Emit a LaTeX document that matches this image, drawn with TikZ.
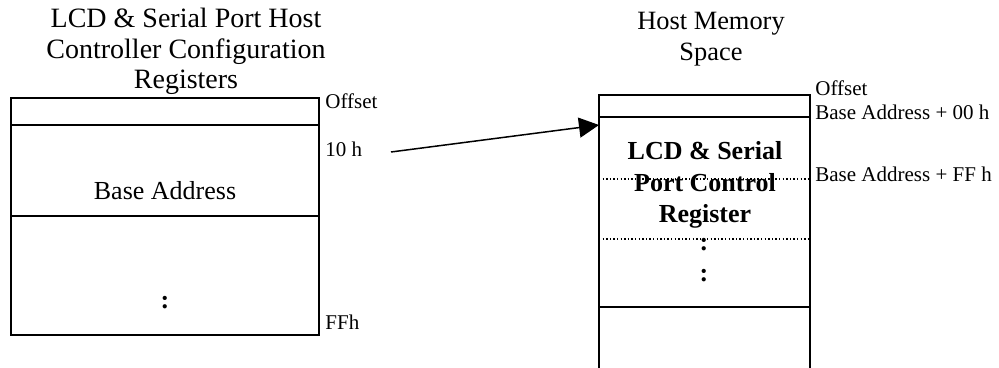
\documentclass[tikz,border=0pt]{standalone}
\usepackage{fontspec}
\setmainfont{Liberation Serif}
\usetikzlibrary{arrows.meta}
\begin{document}
\begin{tikzpicture}[x=0.5pt,y=-0.5pt,
  regbox/.style={line width=1pt},
  dotline/.style={line width=0.7pt,dash pattern=on 0.7pt off 1.1pt},
  ttl/.style={font=\fontsize{13.5}{15}\selectfont,anchor=base,inner sep=0pt},
  lbl/.style={font=\fontsize{10.5}{12}\selectfont,anchor=base west,inner sep=0pt},
  celltxt/.style={font=\fontsize{13}{15}\selectfont,anchor=base,inner sep=0pt},
  boldtxt/.style={font=\fontsize{13}{15}\selectfont\bfseries,anchor=base,inner sep=0pt},
  link/.style={line width=0.75pt,-{Triangle[length=10pt,width=10pt]}}]
\useasboundingbox (0,0) rectangle (999,368);
\clip (0,0) rectangle (999,368);

% left table: configuration registers
\node[ttl,font=\fontsize{14}{16}\selectfont] (lt1) at (186,28) {LCD \& Serial Port Host};
\node[ttl,font=\fontsize{14}{16}\selectfont] (lt2) at (186,59) {Controller Configuration};
\node[ttl,font=\fontsize{14}{16}\selectfont] (lt3) at (186,89) {Registers};
\draw[regbox] (11,98) rectangle (319,335);
\draw[regbox] (11,125) -- (319,125);
\draw[regbox] (11,216) -- (319,216);
\node[celltxt] (base) at (165,200) {Base Address};
\node[celltxt,font=\fontsize{13}{15}\selectfont\bfseries] (ldots) at (165,308) {:};
\node[lbl] (loff) at (325,109) {Offset};
\node[lbl] (lten) at (325,157) {10 h};
\node[lbl] (lff) at (325,329) {FFh};

% right table: host memory space
\node[ttl,font=\fontsize{13.2}{15}\selectfont] (rt1) at (711,30) {Host Memory};
\node[ttl,font=\fontsize{13.2}{15}\selectfont] (rt2) at (711,61) {Space};
\draw[regbox] (599,95) rectangle (810,380);
\draw[regbox] (599,117) -- (810,117);
\draw[regbox] (599,307) -- (810,307);
\draw[dotline] (599,179) -- (810,179);
\draw[dotline] (599,239) -- (810,239);
\node[boldtxt] (rb1) at (705,160) {LCD \& Serial};
\node[boldtxt] (rb2) at (705,192) {Port Control};
\node[boldtxt] (rb3) at (705,223) {Register};
\node[boldtxt] (rdots1) at (704,251) {:};
\node[boldtxt] (rdots2) at (704,282) {:};
\node[lbl] (roff) at (815,96) {Offset};
\node[lbl] (r00) at (815,120) {Base Address + 00 h};
\node[lbl] (rff) at (815,182) {Base Address + FF h};

% pointer from the base address register into host memory
\coordinate (src) at (391,152);
\coordinate (dst) at (599,125);
\draw[link] (src) -- (dst);
\end{tikzpicture}
\end{document}
